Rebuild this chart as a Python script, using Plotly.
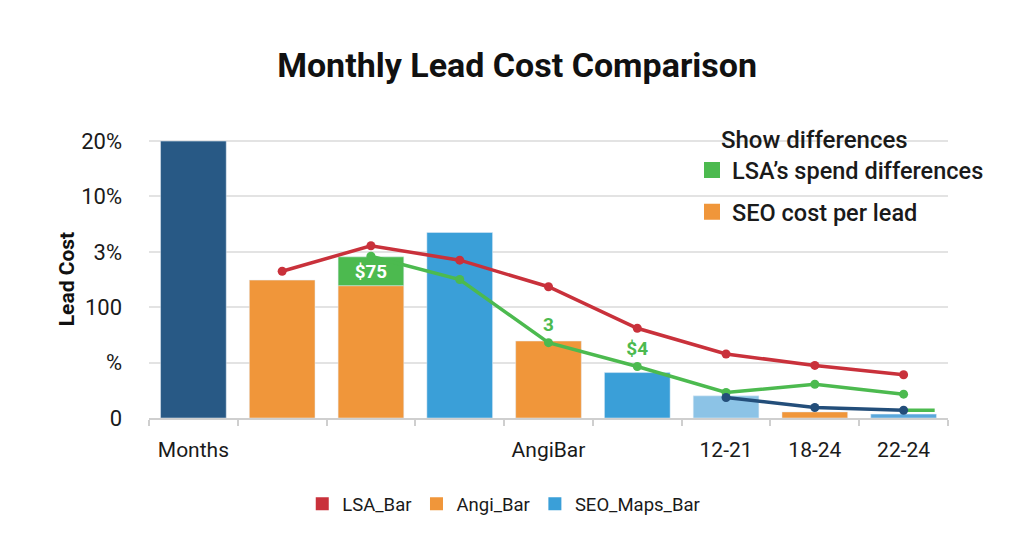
import plotly.graph_objects as go

# ---------------- data ----------------
tick_positions = [0, 1, 2, 3, 4, 5, 6, 7, 8]
tick_labels = ["Months", "", "", "", "AngiBar", "", "12-21", "18-24", "22-24"]

y_tick_values = [0, 1, 2, 3, 4, 5]
y_tick_labels = ["0", "%", "100", "3%", "10%", "20%"]

months_x = [0]
months_val = [5.0]

angi_x = [1, 2, 4, 7]
angi_val = [2.49, 2.39, 1.39, 0.11]

seo_x = [3, 5]
seo_val = [3.35, 0.82]

light_x = [6, 8]
light_val = [0.40, 0.07]

diff_x = [2]
diff_base = [2.39]
diff_val = [0.52]
diff_text = ["$75"]

lsa_x = [1, 2, 3, 4, 5, 6, 7, 8]
lsa_val = [2.65, 3.11, 2.85, 2.37, 1.62, 1.155, 0.95, 0.78]

green_x = [2, 3, 4, 5, 6, 7, 8]
green_val = [2.92, 2.50, 1.36, 0.93, 0.46, 0.61, 0.43]
green_text = ["", "", "3", "$4", "", "", ""]

green_tail_x = [8, 8.35]
green_tail_val = [0.14, 0.14]

navy_x = [6, 7, 8]
navy_val = [0.37, 0.19, 0.14]

bottom_legend_names = ["LSA_Bar", "Angi_Bar", "SEO_Maps_Bar"]
side_legend_names = ["LSA\u2019s spend differences", "SEO cost per lead"]

# ---------------- styles ----------------
C_DARK = "#285985"
C_ORANGE = "#f0963a"
C_BLUE = "#3a9fd8"
C_LIGHT = "#8cc3e6"
C_RED = "#c9313b"
C_GREEN = "#4cba4f"
C_NAVY = "#234e7a"
FONT = "Roboto"
BW = 0.74

fig = go.Figure()

fig.add_trace(go.Bar(x=months_x, y=months_val, width=BW, marker_color=C_DARK,
                     showlegend=False, hoverinfo="skip"))
fig.add_trace(go.Bar(x=angi_x, y=angi_val, width=BW, marker_color=C_ORANGE, showlegend=False))
fig.add_trace(go.Bar(x=seo_x, y=seo_val, width=BW, marker_color=C_BLUE, showlegend=False))
fig.add_trace(go.Bar(x=light_x, y=light_val, width=BW, marker_color=[C_LIGHT, "#5aa8dc"],
                     showlegend=False))
fig.add_trace(go.Bar(x=diff_x, y=diff_val, base=diff_base, width=BW, marker_color=C_GREEN,
                     text=diff_text, textposition="inside", insidetextanchor="middle",
                     textfont=dict(color="white", size=19, family=FONT, weight="bold"),
                     showlegend=False))

fig.add_trace(go.Scatter(x=green_tail_x, y=green_tail_val, mode="lines",
                         line=dict(color=C_GREEN, width=3.5), showlegend=False))
fig.add_trace(go.Scatter(x=lsa_x, y=lsa_val, mode="lines+markers",
                         line=dict(color=C_RED, width=3.5), marker=dict(size=9, color=C_RED),
                         showlegend=False))
fig.add_trace(go.Scatter(x=green_x, y=green_val, mode="lines+markers+text",
                         text=green_text, textposition="top center",
                         textfont=dict(color=C_GREEN, size=19, family=FONT, weight="bold"),
                         line=dict(color=C_GREEN, width=3.5), marker=dict(size=9, color=C_GREEN),
                         showlegend=False))
fig.add_trace(go.Scatter(x=navy_x, y=navy_val, mode="lines+markers",
                         line=dict(color=C_NAVY, width=3.5), marker=dict(size=9, color=C_NAVY),
                         showlegend=False))

# legend-only entries (square swatches)
for name, col in zip(bottom_legend_names, [C_RED, C_ORANGE, C_BLUE]):
    fig.add_trace(go.Scatter(x=[None], y=[None], mode="markers", name=name,
                             marker=dict(symbol="square", size=13, color=col),
                             legend="legend"))
for i, (name, col) in enumerate(zip(side_legend_names, [C_GREEN, C_ORANGE])):
    fig.add_trace(go.Scatter(x=[None], y=[None], mode="markers", name=name,
                             marker=dict(symbol="square", size=16, color=col),
                             legend="legend2", legendgroup=f"g{i}"))

plot_left, plot_top = 149, 140
plot_w = 1024 - 149 - 76
plot_h = 559 - 140 - 141

fig.update_layout(
    width=1024, height=559,
    margin=dict(l=plot_left, r=76, t=plot_top, b=141),
    paper_bgcolor="white", plot_bgcolor="white",
    barmode="overlay",
    font=dict(family=FONT, color="#1a1a1a"),
    title=dict(text="<b>Monthly Lead Cost Comparison</b>", x=0.505, xref="container",
               xanchor="center", y=1 - 65 / 559, yref="container", yanchor="middle",
               font=dict(size=34, color="#111", family=FONT)),
    xaxis=dict(range=[-0.5, 8.5], tickvals=tick_positions, ticktext=tick_labels,
               ticks="", showgrid=False, showline=True, linecolor="#cfcfcf", linewidth=1.5,
               zeroline=False, tickfont=dict(size=21, color="#1a1a1a"),
               ticklabelstandoff=12,
               minor=dict(ticks="outside", tick0=-0.5, dtick=1, ticklen=6,
                          tickcolor="#cfcfcf", tickwidth=1.5, showgrid=False)),
    yaxis=dict(range=[0, 5.02], tickvals=y_tick_values, ticktext=y_tick_labels,
               showgrid=True, gridcolor="#e3e3e3", gridwidth=1.5, zeroline=False,
               showline=False, tickfont=dict(size=22, color="#1a1a1a"),
               ticklabelstandoff=26,
               title=dict(text="<b>Lead Cost</b>", font=dict(size=21, color="#111"),
                          standoff=0)),
    legend=dict(orientation="h", x=0.444, xanchor="center", xref="paper",
                y=-0.31, yanchor="middle", yref="paper",
                font=dict(size=18.5, color="#1a1a1a"), itemwidth=30,
                traceorder="normal", bgcolor="rgba(0,0,0,0)"),
    legend2=dict(orientation="v", x=(692 - plot_left) / plot_w, xanchor="left",
                 y=0.97, yanchor="top",
                 font=dict(size=23.5, color="#1a1a1a", weight=500),
                 traceorder="grouped", tracegroupgap=8, bgcolor="rgba(0,0,0,0)"),
    annotations=[dict(text="Show differences",
                      x=(719 - plot_left) / plot_w, xref="paper", xanchor="left",
                      y=1 - (140 - plot_top) / plot_h, yref="paper", yanchor="middle",
                      showarrow=False,
                      font=dict(size=24, color="#1a1a1a", family=FONT, weight=500))],
)

fig.write_html("out.html")
